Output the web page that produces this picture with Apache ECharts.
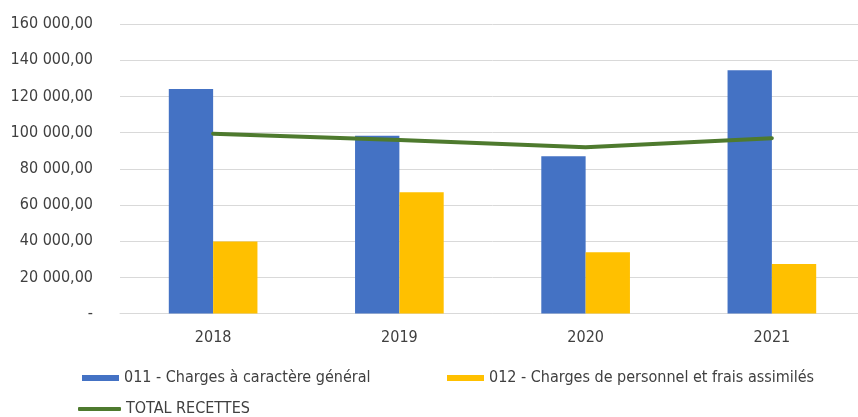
<!DOCTYPE html>
<html>
<head>
<meta charset="utf-8">
<script src="https://cdn.jsdelivr.net/npm/echarts@6/dist/echarts.min.js"></script>
<style>
html,body{margin:0;padding:0;background:#fff;overflow:hidden;width:858px;height:417px;}
#c{width:865px;height:417px;}
</style>
</head>
<body>
<div id="c"></div>
<script>
const categories = ['2018', '2019', '2020', '2021'];
const charges011 = [124100, 98300, 86900, 134400];
const charges012 = [39900, 67000, 33900, 27400];
const totalRecettes = [99400, 95900, 91900, 96900];
const seriesNames = ['011 - Charges à caractère général', '012 - Charges de personnel et frais assimilés', 'TOTAL RECETTES'];

const FONT = '"Liberation Sans Narrow", "DejaVu Sans Condensed", sans-serif';

function fmt(v) {
  if (v === 0) return '-';
  const s = Math.round(v).toString().replace(/\B(?=(\d{3})+(?!\d))/g, ' ');
  return s + ',00';
}

const chart = echarts.init(document.getElementById('c'));
const legendText = { color: '#404040', fontSize: 16, fontFamily: FONT };
chart.setOption({
  animation: false,
  grid: { left: 120, top: 24, right: 0, bottom: 103.4, containLabel: false },
  legend: [
    { data: [seriesNames[0]], left: 82, top: 370, padding: 0, icon: 'rect', itemWidth: 37, itemHeight: 6, textStyle: legendText },
    { data: [seriesNames[1]], left: 447, top: 370, padding: 0, icon: 'rect', itemWidth: 37, itemHeight: 6, textStyle: legendText },
    { data: [seriesNames[2]], left: 78, top: 401, padding: 0, icon: 'roundRect', itemWidth: 43, itemHeight: 4, textStyle: legendText }
  ],
  xAxis: {
    type: 'category',
    data: categories,
    axisTick: { show: false },
    axisLine: { lineStyle: { color: '#d9d9d9', width: 1 } },
    axisLabel: { color: '#404040', fontSize: 16, fontFamily: FONT, margin: 16 }
  },
  yAxis: {
    type: 'value',
    min: 0, max: 160000, interval: 20000,
    axisLine: { show: false },
    axisTick: { show: false },
    splitLine: { lineStyle: { color: '#d9d9d9', width: 1 } },
    axisLabel: { color: '#404040', fontSize: 16, fontFamily: FONT, margin: 27, formatter: fmt }
  },
  series: [
    { name: seriesNames[0], type: 'bar', data: charges011, barGap: '0%', barCategoryGap: '52.4%', itemStyle: { color: '#4472C4' } },
    { name: seriesNames[1], type: 'bar', data: charges012, itemStyle: { color: '#FFC000' } },
    { name: seriesNames[2], type: 'line', data: totalRecettes, symbol: 'none', lineStyle: { color: '#4E7A2E', width: 4, cap: 'round' }, itemStyle: { color: '#4E7A2E' } }
  ]
});
</script>
</body>
</html>
